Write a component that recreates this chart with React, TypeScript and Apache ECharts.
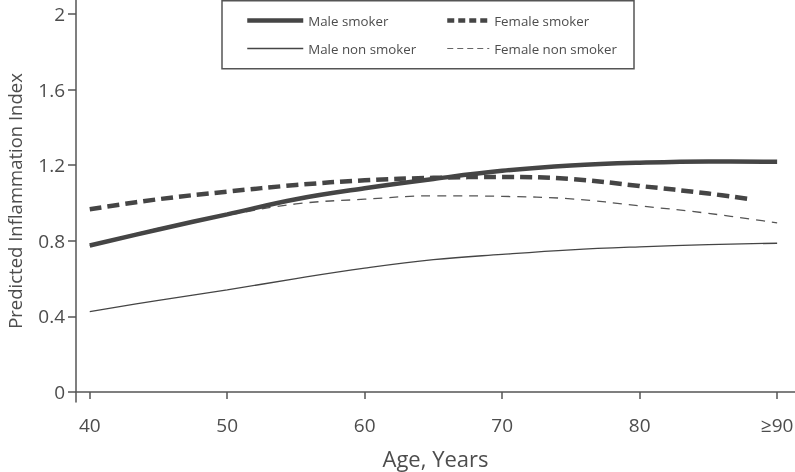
import React, { useEffect, useRef } from "react";
import * as echarts from "echarts";

const xTicks = [40, 50, 60, 70, 80, 90];
const xTickLabels = ["40", "50", "60", "70", "80", "≥90"];
const yTicks = [0, 0.4, 0.8, 1.2, 1.6, 2];
const yTickLabels = ["0", "0.4", "0.8", "1.2", "1.6", "2"];

const agesFull = [40, 45, 50, 55, 60, 65, 70, 75, 80, 85, 90];
const agesFemaleSmoker = [40, 45, 50, 55, 60, 65, 70, 75, 80, 85, 88];

const maleSmoker = [0.775, 0.86, 0.94, 1.02, 1.078, 1.127, 1.17, 1.198, 1.213, 1.22, 1.218];
const femaleSmoker = [0.967, 1.02, 1.06, 1.095, 1.12, 1.133, 1.138, 1.127, 1.09, 1.05, 1.02];
const maleNonSmoker = [0.425, 0.485, 0.54, 0.6, 0.655, 0.7, 0.728, 0.752, 0.768, 0.78, 0.787];
const femaleNonSmoker = [0.775, 0.865, 0.935, 0.995, 1.02, 1.038, 1.035, 1.022, 0.985, 0.945, 0.895];

const FONT = "'Open Sans', 'Noto Sans', sans-serif";
const TEXT = "#4d4d4d";
const LINE = "#454545";

const pairs = (xs: number[], ys: number[]) => xs.map((x, i) => [x, ys[i]]);

export default function App() {
  const ref = useRef<HTMLDivElement>(null);
  useEffect(() => {
    if (!ref.current) return;
    const chart = echarts.init(ref.current, null, { renderer: "svg" });
    const legendBase = {
      orient: "vertical",
      top: 9,
      itemHeight: 14,
      itemGap: 15,
      itemStyle: { opacity: 0, borderWidth: 0 },
      textStyle: { color: TEXT, fontSize: 13.3, fontFamily: FONT },
    };
    chart.setOption({
      animation: false,
      textStyle: { fontFamily: FONT },
      grid: { left: 76, right: 0, top: 0, bottom: 70, containLabel: false, outerBoundsMode: "none" },
      graphic: [
        {
          type: "rect",
          shape: { x: 222, y: 0.75, width: 412, height: 68 },
          style: { fill: "none", stroke: "#555", lineWidth: 1.5 },
          z: 10,
        },
      ],
      legend: [
        {
          ...legendBase,
          left: 240,
          itemWidth: 56,
          data: [
            { name: "Male smoker", lineStyle: { width: 4.5, color: LINE, type: "solid" } },
            { name: "Male non smoker", lineStyle: { width: 1.3, color: LINE, type: "solid" } },
          ],
        },
        {
          ...legendBase,
          left: 440,
          itemWidth: 42,
          data: [
            { name: "Female smoker", lineStyle: { width: 4.5, color: LINE, type: [7, 4] } },
            { name: "Female non smoker", lineStyle: { width: 1.2, color: "#666", type: [6, 4] } },
          ],
        },
      ],
      xAxis: {
        type: "value",
        min: 39,
        max: 91.3,
        name: "Age, Years",
        nameLocation: "middle",
        nameGap: 45,
        nameTextStyle: { color: TEXT, fontSize: 22, fontFamily: FONT },
        axisLine: { show: true, lineStyle: { color: "#555", width: 1.5 } },
        axisTick: { show: true, length: 7, customValues: xTicks, lineStyle: { color: "#555", width: 1.5 } },
        axisLabel: {
          customValues: xTicks,
          margin: 13,
          color: TEXT,
          fontSize: 19,
          fontFamily: FONT,
          formatter: (v: number) => xTickLabels[xTicks.indexOf(v)] ?? "",
        },
        splitLine: { show: false },
      },
      yAxis: {
        type: "value",
        min: -0.053,
        max: 2.074,
        name: "Predicted Inflammation Index",
        nameLocation: "middle",
        nameGap: 52,
        nameTextStyle: { color: TEXT, fontSize: 18.5, fontFamily: FONT },
        axisLine: { show: true, lineStyle: { color: "#555", width: 1.5 } },
        axisTick: { show: true, length: 8, customValues: yTicks, lineStyle: { color: "#555", width: 1.5 } },
        axisLabel: {
          customValues: yTicks,
          margin: 11,
          color: TEXT,
          fontSize: 19,
          fontFamily: FONT,
          formatter: (v: number) => {
            const i = yTicks.findIndex((t) => Math.abs(t - v) < 1e-9);
            return i >= 0 ? yTickLabels[i] : "";
          },
        },
        splitLine: { show: false },
      },
      series: [
        {
          name: "Female non smoker",
          type: "line",
          smooth: 0.4,
          symbol: "none",
          data: pairs(agesFull, femaleNonSmoker),
          lineStyle: { color: "#555", width: 1.3, type: [9, 7] },
          itemStyle: { color: "#555" },
        },
        {
          name: "Male non smoker",
          type: "line",
          smooth: 0.4,
          symbol: "none",
          data: pairs(agesFull, maleNonSmoker),
          lineStyle: { color: LINE, width: 1.3, type: "solid" },
          itemStyle: { color: LINE },
        },
        {
          name: "Female smoker",
          type: "line",
          smooth: 0.4,
          symbol: "none",
          data: pairs(agesFemaleSmoker, femaleSmoker),
          lineStyle: { color: LINE, width: 4.5, type: [12, 6], cap: "butt" },
          itemStyle: { color: LINE },
        },
        {
          name: "Male smoker",
          type: "line",
          smooth: 0.4,
          symbol: "none",
          data: pairs(agesFull, maleSmoker),
          lineStyle: { color: LINE, width: 4.5, type: "solid" },
          itemStyle: { color: LINE },
        },
      ],
    });
    return () => chart.dispose();
  }, []);
  return (
    <div
      ref={ref}
      style={{ position: "fixed", left: 0, top: 0, width: 795, height: 472 }}
    />
  );
}
